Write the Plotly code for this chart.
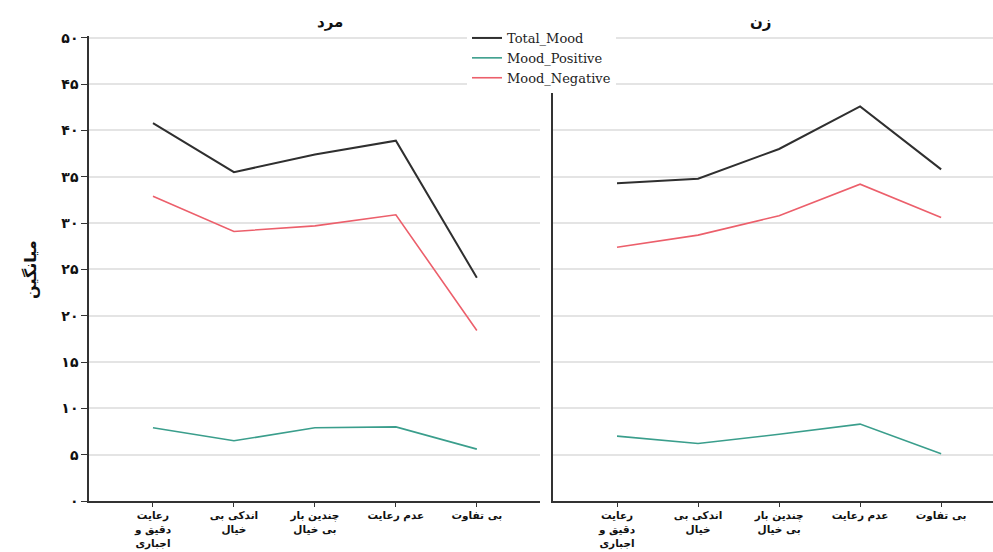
import plotly.graph_objects as go

# Categories along the x axis (tick labels) and y tick labels in Persian digits
categories = ["رعایت<br>دقیق و<br>اجباری", "اندکی بی<br>خیال", "چندین بار<br>بی خیال", "عدم رعایت", "بی تفاوت"]
y_tickvals = [0, 5, 10, 15, 20, 25, 30, 35, 40, 45, 50]
y_ticktext = ["۰", "۵", "۱۰", "۱۵", "۲۰", "۲۵", "۳۰", "۳۵", "۴۰", "۴۵", "۵۰"]

# Group means: men (مرد) and women (زن)
men_total = [40.8, 35.5, 37.4, 38.9, 24.1]
men_positive = [7.9, 6.5, 7.9, 8.0, 5.6]
men_negative = [32.9, 29.1, 29.7, 30.9, 18.4]

women_total = [34.3, 34.8, 38.0, 42.6, 35.8]
women_positive = [7.0, 6.2, 7.2, 8.3, 5.1]
women_negative = [27.4, 28.7, 30.8, 34.2, 30.6]

series_names = ["Total_Mood", "Mood_Positive", "Mood_Negative"]
series_colors = ["#2f2f2f", "#3a9e8c", "#ec5f6b"]
series_widths = [2, 1.6, 1.6]

W, H = 993, 552
FA_FONT = "DejaVu Sans"

fig = go.Figure()
xs = list(range(len(categories)))

panels = [
    ("x", "y", [men_total, men_positive, men_negative], True),
    ("x2", "y2", [women_total, women_positive, women_negative], False),
]
for xa, ya, values, show in panels:
    for name, vals, col, lw in zip(series_names, values, series_colors, series_widths):
        fig.add_trace(go.Scatter(
            x=xs, y=vals, mode="lines", name=name,
            line=dict(color=col, width=lw),
            xaxis=xa, yaxis=ya, showlegend=show,
        ))

def px_x(p):
    return p / W

def px_y(p):
    return 1 - p / H

y_dom = [px_y(501), px_y(36)]
grid = "#e4e4e4"
axis_col = "#333333"

x_labels = ["<b>" + c + "</b>" for c in categories]
y_labels = ["<b>" + t + "</b>" for t in y_ticktext]

common_x = dict(
    tickvals=xs, ticktext=x_labels, showgrid=False, zeroline=False,
    showline=True, linecolor=axis_col, linewidth=1.5,
    ticks="outside", ticklen=4, tickcolor=axis_col, automargin=False,
    tickfont=dict(family=FA_FONT, size=10.5, color="#111111"),
)
common_y = dict(
    range=[0, 50.2], showgrid=True, gridcolor=grid, gridwidth=1.5,
    zeroline=False, showline=True, linecolor=axis_col, linewidth=1.5,
    domain=y_dom, automargin=False,
)

fig.update_layout(
    width=W, height=H,
    margin=dict(l=0, r=0, t=0, b=0, autoexpand=False),
    paper_bgcolor="white", plot_bgcolor="white",
    xaxis=dict(domain=[px_x(89), px_x(540)], range=[-0.79, 4.78], anchor="y", **common_x),
    xaxis2=dict(domain=[px_x(553), 1.0], range=[-0.79, 4.64], anchor="y2", **common_x),
    yaxis=dict(
        anchor="x", tickvals=y_tickvals, ticktext=y_labels,
        ticks="outside", ticklen=6, tickcolor=axis_col,
        tickfont=dict(family=FA_FONT, size=14, color="#111111"),
        **common_y,
    ),
    yaxis2=dict(anchor="x2", tickvals=y_tickvals, showticklabels=False, ticks="", **common_y),
    legend=dict(
        x=px_x(467), y=px_y(23), xanchor="left", yanchor="top",
        bgcolor="white", borderwidth=0,
        font=dict(family="DejaVu Serif", size=13, color="#222222"),
        tracegroupgap=0, itemwidth=30,
    ),
    showlegend=True,
)

# Panel titles and y axis title
fig.add_annotation(text="<b>مرد</b>", x=(px_x(89) + px_x(540)) / 2, y=px_y(22),
                   xref="paper", yref="paper", showarrow=False, yanchor="middle",
                   font=dict(family=FA_FONT, size=15, color="#111111"))
fig.add_annotation(text="<b>زن</b>", x=(px_x(553) + 1.0) / 2, y=px_y(22),
                   xref="paper", yref="paper", showarrow=False, yanchor="middle",
                   font=dict(family=FA_FONT, size=15, color="#111111"))
fig.add_annotation(text="<b>میانگین</b>", x=px_x(30), y=px_y(270),
                   xref="paper", yref="paper", showarrow=False, textangle=-90,
                   xanchor="center", yanchor="middle",
                   font=dict(family=FA_FONT, size=16, color="#111111"))

fig.write_html("out.html")
